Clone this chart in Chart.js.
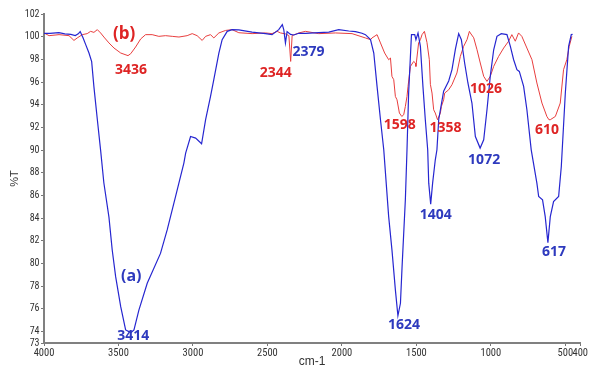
<!DOCTYPE html>
<html>
<head>
<meta charset="utf-8">
<script src="https://cdn.jsdelivr.net/npm/chart.js@4/dist/chart.umd.min.js"></script>
<style>
  html, body { margin: 0; padding: 0; background: #ffffff; }
  canvas { display: block; }
</style>
</head>
<body>
<canvas id="ir" width="589" height="365"></canvas>
<script>
// FT-IR spectra: wavenumber (cm-1) against transmittance (%T)

// Spectrum (a)
const waveA = [4000,3960,3900,3860,3820,3790,3770,3757,3748,3738,3720,3698,3680,3665,3642,3620,3598,3564,3542,3519,3485,3452,3430,3414,3396,3363,3307,3218,3173,3117,3061,3049,3016,2982,2942,2915,2882,2860,2826,2804,2770,2737,2692,2603,2513,2469,2424,2400,2390,2379,2368,2345,2323,2289,2245,2155,2088,2021,1954,1909,1865,1842,1808,1786,1764,1741,1719,1686,1664,1641,1624,1607,1596,1574,1563,1552,1533,1511,1503,1489,1473,1456,1440,1424,1417,1404,1391,1373,1362,1350,1317,1283,1261,1238,1216,1198,1176,1154,1127,1104,1072,1048,1026,1004,981,959,930,892,869,847,825,809,780,758,729,691,679,653,635,617,601,579,545,527,500,478,460,451];
const transA = [100.3,100.3,100.35,100.25,100.2,100.1,100.25,100.45,100.2,99.9,99.3,98.56,97.8,95.6,92.7,90.0,87.1,84.1,81.2,78.85,76.2,74.15,74.0,73.95,74.15,75.9,78.27,80.9,82.97,85.9,88.86,89.74,91.2,91.06,90.56,92.68,94.73,96.21,98.56,99.74,100.47,100.62,100.6,100.4,100.27,100.18,100.62,101.06,100.6,99.45,100.45,100.2,100.15,100.3,100.3,100.35,100.4,100.62,100.5,100.45,100.3,100.18,99.74,98.56,95.62,92.68,90.03,84.14,81.21,77.68,75.4,76.5,79.73,85.62,90.03,95.03,100.18,100.18,99.74,100.33,99.14,95.62,92.68,90.03,87.09,85.24,87.09,89.15,90.03,92.7,95.2,96.1,97.1,98.9,100.27,99.74,97.68,95.92,94.15,91.2,90.18,90.91,93.56,96.5,98.85,100.03,100.27,100.18,99.14,97.97,97.09,96.94,95.62,93.56,90.03,87.09,85.91,85.62,84.14,81.85,84.14,85.47,85.91,88.56,95.03,99.14,100.18,100.2];

// Spectrum (b)
const waveB = [4000,3966,3899,3832,3799,3777,3743,3710,3687,3665,3642,3620,3598,3564,3530,3485,3436,3418,3385,3351,3318,3274,3229,3184,3139,3094,3039,3005,2972,2938,2915,2882,2860,2826,2781,2737,2692,2603,2513,2469,2435,2412,2380,2356,2344,2334,2289,2245,2155,2043,1932,1842,1808,1798,1764,1741,1713,1686,1674,1664,1652,1641,1630,1614,1598,1585,1574,1563,1556,1540,1518,1507,1503,1485,1473,1462,1446,1429,1413,1406,1395,1384,1373,1358,1339,1332,1317,1310,1283,1261,1228,1205,1183,1160,1144,1138,1115,1093,1071,1048,1026,1004,981,948,914,881,859,836,814,792,758,724,691,657,624,610,601,567,534,512,490,474,456];
const transB = [100.33,100.09,100.18,100.09,99.67,99.89,100.18,100.27,100.47,100.38,100.62,100.33,99.97,99.45,99.0,98.56,98.33,98.5,99.09,99.8,100.18,100.18,100.03,100.09,100.03,99.97,100.09,100.27,100.09,99.67,100.03,100.18,99.89,100.33,100.55,100.62,100.35,100.27,100.33,100.27,100.47,100.33,100.25,100.1,97.82,100.1,100.33,100.47,100.27,100.33,100.27,99.89,99.74,99.89,100.18,99.45,98.56,97.97,98.12,96.5,96.21,94.73,94.44,93.27,92.97,93.12,93.85,94.73,95.62,97.38,97.82,97.68,97.38,99.45,99.74,100.18,100.47,99.5,97.97,95.8,95.03,93.56,93.27,92.68,93.27,93.85,94.44,95.03,95.32,95.77,96.8,98.26,99.14,99.74,100.47,100.33,99.9,98.85,97.68,96.5,96.06,96.5,97.38,98.26,99.0,99.6,100.18,99.6,100.33,100.03,99.0,97.97,95.92,94.15,92.97,92.68,92.68,92.97,94.15,97.09,97.97,99.14,100.03];

// Axis ticks
const xTickValues = [4000, 3500, 3000, 2500, 2000, 1500, 1000, 500, 400];
const yTickValues = [73, 74, 76, 78, 80, 82, 84, 86, 88, 90, 92, 94, 96, 98, 100, 102];

// Band positions labelled on each spectrum
const peaksA = [3414, 2379, 1624, 1404, 1072, 617];
const peaksB = [3436, 2344, 1598, 1358, 1026, 610];

// Label placement (pixel offsets from each band minimum)
const peakOffsetA = { 3414: [2, 4], 2379: [23, 9], 1624: [6, 9], 1404: [5, 11], 1072: [4, 12], 617: [6, 9] };
const peakOffsetB = { 3436: [3, 14], 2344: [-15, 12], 1598: [-2, 9], 1358: [8, 8], 1026: [-1, 8], 610: [-2, 10] };

const colorA = 'rgb(38,38,208)';
const colorB = 'rgb(232,62,62)';
const labelColorA = 'rgb(46,58,190)';
const labelColorB = 'rgb(222,36,36)';

const tickFont = "'Roboto Condensed', 'DejaVu Sans Condensed', sans-serif";
const labelFont = "'Open Sans', 'Noto Sans', sans-serif";

const pointsOf = (w, t) => w.map((v, i) => ({ x: v, y: t[i] }));

// Draws band wavenumbers and series tags next to the curves
const bandLabels = {
  id: 'bandLabels',
  afterDatasetsDraw(chart) {
    const { ctx } = chart;
    const xs = chart.scales.x, ys = chart.scales.y;
    ctx.save();
    ctx.textAlign = 'center';
    ctx.textBaseline = 'middle';
    ctx.font = 'bold 14px ' + labelFont;
    const groups = [
      [waveA, transA, peaksA, peakOffsetA, labelColorA],
      [waveB, transB, peaksB, peakOffsetB, labelColorB]
    ];
    groups.forEach(([w, t, peaks, offs, col]) => {
      ctx.fillStyle = col;
      peaks.forEach(p => {
        const i = w.indexOf(p);
        const px = xs.getPixelForValue(p);
        const py = ys.getPixelForValue(t[i]);
        ctx.fillText(String(p), px + offs[p][0], py + offs[p][1]);
      });
    });
    // series tags
    ctx.font = 'bold 17px ' + labelFont;
    ctx.fillStyle = labelColorB;
    ctx.fillText('(b)', xs.getPixelForValue(3462), ys.getPixelForValue(100.18));
    ctx.font = 'bold 16px ' + labelFont;
    ctx.fillStyle = labelColorA;
    ctx.fillText('(a)', xs.getPixelForValue(3414), ys.getPixelForValue(78.85));
    ctx.restore();
  }
};

new Chart(document.getElementById('ir'), {
  type: 'line',
  data: {
    datasets: [
      { label: '(a)', data: pointsOf(waveA, transA), borderColor: colorA, borderWidth: 1.2, pointRadius: 0, tension: 0, fill: false },
      { label: '(b)', data: pointsOf(waveB, transB), borderColor: colorB, borderWidth: 1, pointRadius: 0, tension: 0, fill: false }
    ]
  },
  options: {
    responsive: false,
    animation: false,
    devicePixelRatio: 1,
    layout: { padding: { top: 14, right: 7, bottom: 0, left: 0 } },
    plugins: { legend: { display: false }, tooltip: { enabled: false } },
    scales: {
      x: {
        type: 'linear',
        reverse: true,
        min: 400,
        max: 4000,
        afterBuildTicks: s => { s.ticks = xTickValues.map(v => ({ value: v })); },
        afterFit: s => { s.height = 22; },
        grid: { display: true, drawOnChartArea: false, drawTicks: true, tickLength: 3, color: '#777', lineWidth: 1 },
        border: { display: true, color: '#808080', width: 2 },
        ticks: { autoSkip: false, maxRotation: 0, padding: 1, color: '#333', font: { family: tickFont, size: 10.5 }, callback: v => String(v) },
        title: { display: true, text: 'cm-1', color: '#333', font: { family: "'Liberation Sans', Arial, sans-serif", size: 12 }, padding: { top: 0, bottom: -4 } }
      },
      y: {
        type: 'linear',
        min: 73,
        max: 102,
        afterBuildTicks: s => { s.ticks = yTickValues.map(v => ({ value: v })); },
        afterFit: s => { s.width = 44; },
        grid: { display: true, drawOnChartArea: false, drawTicks: true, tickLength: 3, color: '#777', lineWidth: 1 },
        border: { display: true, color: '#808080', width: 2 },
        ticks: { autoSkip: false, padding: 1.5, color: '#333', font: { family: tickFont, size: 10 }, callback: v => String(v) },
        title: { display: true, text: '%T', color: '#333', font: { family: "'Liberation Sans', Arial, sans-serif", size: 11 }, padding: { top: 8, bottom: 0 } }
      }
    }
  },
  plugins: [bandLabels]
});
</script>
</body>
</html>
